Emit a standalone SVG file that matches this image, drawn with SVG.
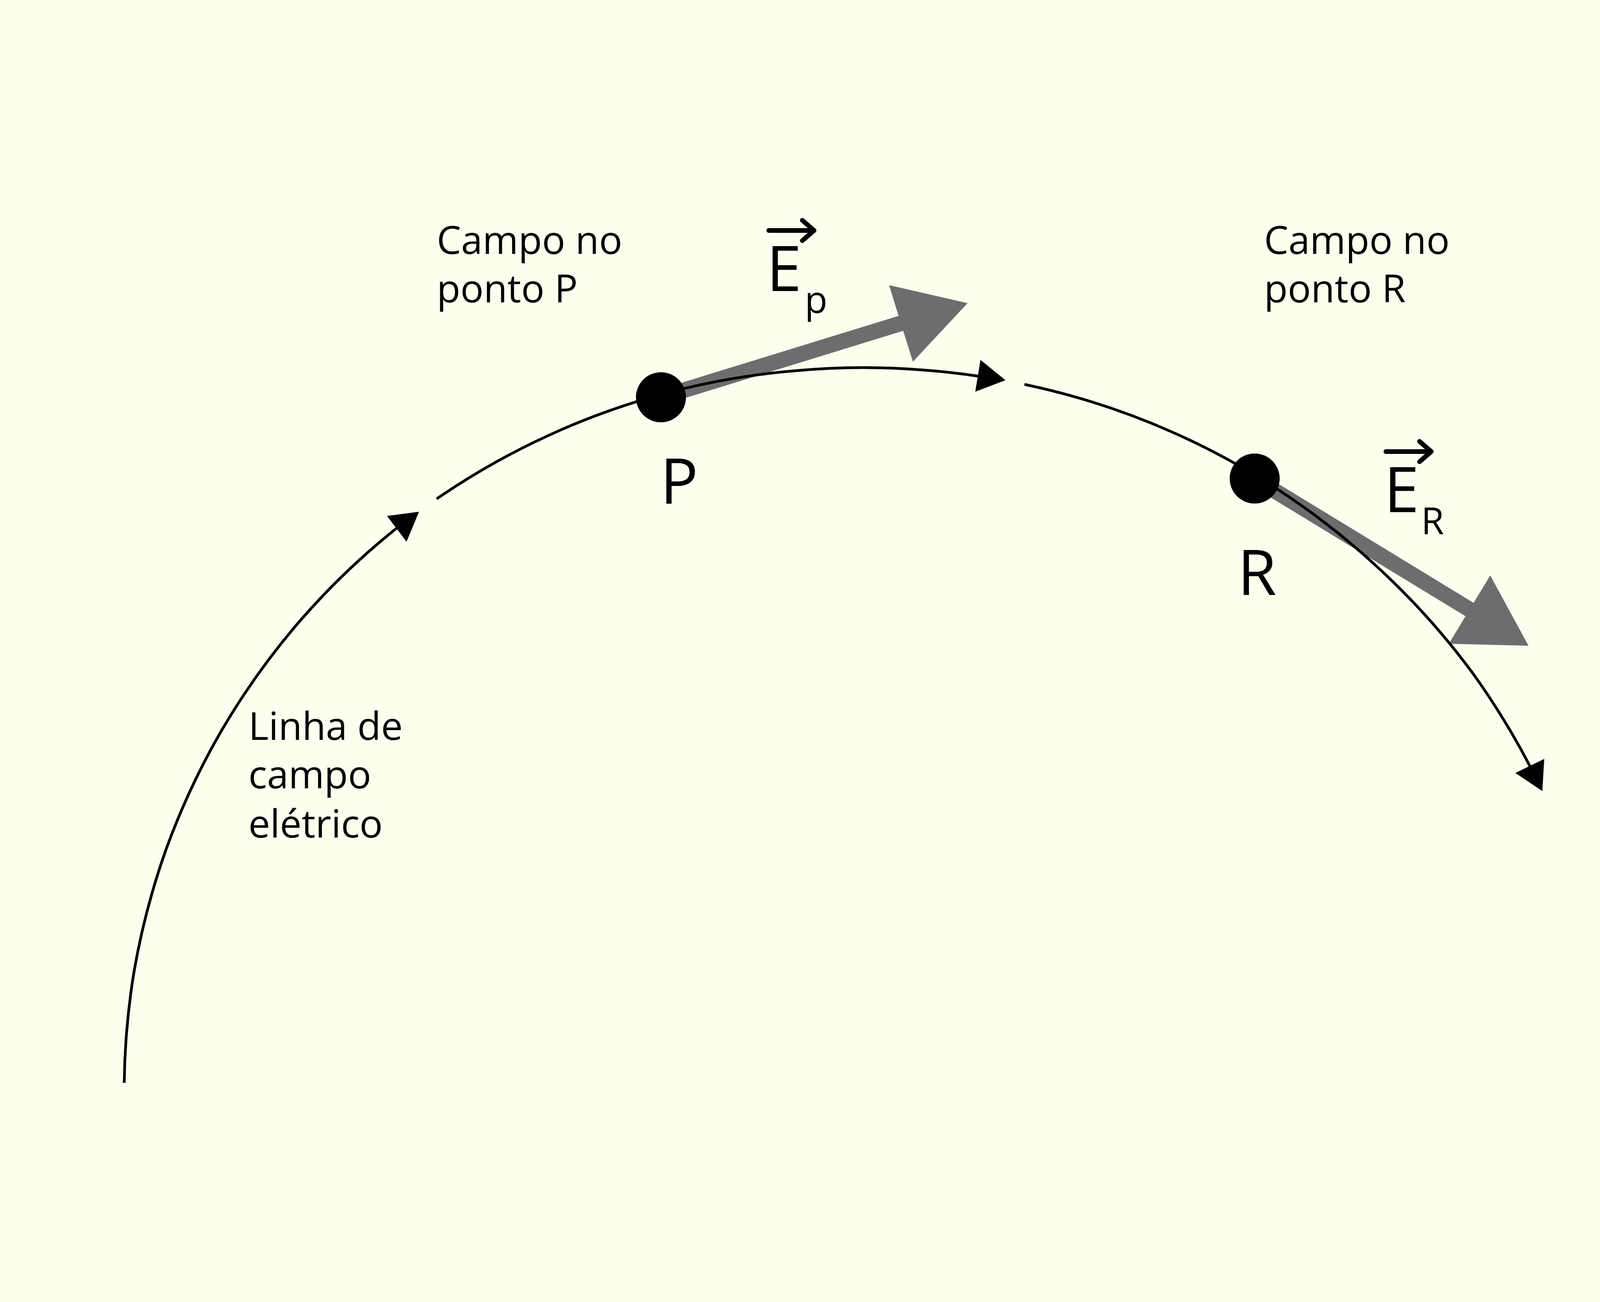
<svg xmlns="http://www.w3.org/2000/svg" width="4267" height="3333" viewBox="0 0 4267 3333">
  <style>
    .bg { fill: #fdfeee; }
    .line { fill: none; stroke: #000; stroke-width: 7; }
    .ah { fill: #000; stroke: none; }
    .shaft { fill: none; stroke: #6d6d70; stroke-width: 40; }
    .head { fill: #6d6d70; stroke: none; }
    .dot { fill: #000; }
    .lbl { font-family: "Open Sans", "Noto Sans", "DejaVu Sans", sans-serif; fill: #000; }
    .small { font-size: 99px; }
    .big { font-size: 162px; }
    .sub { font-size: 95px; }
    .vec { fill: none; stroke: #000; stroke-width: 12; stroke-linecap: round; stroke-linejoin: round; }
  </style>
  <rect class="bg" x="0" y="0" width="4267" height="3333"/>

  <g id="field-vectors">
    <g id="vector-EP">
      <line class="shaft" x1="1692" y1="1017" x2="2312" y2="826"/>
      <polygon class="head" points="2276,730 2477,776 2337,926"/>
    </g>
    <g id="vector-ER">
      <line class="shaft" x1="3212" y1="1225" x2="3768" y2="1564"/>
      <polygon class="head" points="3815,1473 3913,1653 3709,1648"/>
    </g>
  </g>

  <g id="connectors">
    <path class="line" d="M318,2772 A1890,1890 0 0 1 342.6,2490.5 A1890,1890 0 0 1 425.9,2172.3 A1890,1890 0 0 1 564.9,1874 A1890,1890 0 0 1 754.5,1605 A1890,1890 0 0 1 1018,1350"/>
    <polygon class="ah" points="990.7,1320.7 1072.7,1310 1040.7,1386.7"/>
    <path class="line" d="M1117.9,1277 A1890,1890 0 0 1 1405.5,1114.1 A1890,1890 0 0 1 1713.9,1004 A1890,1890 0 0 1 2036.5,949.1 A1890,1890 0 0 1 2363.7,947.2 A1890,1890 0 0 1 2505,963"/>
    <polygon class="ah" points="2510,921.3 2574,973.3 2496.7,1002.7"/>
    <path class="line" d="M2622.7,984 A1900,1900 0 0 1 2998.7,1105.1 A1900,1900 0 0 1 3288.1,1264.1 A1900,1900 0 0 1 3547,1471 A1900,1900 0 0 1 3767.9,1720.2 A1900,1900 0 0 1 3917,1962"/>
    <polygon class="ah" points="3953.3,1942.7 3948.3,2025 3879.3,1978.7"/>
  </g>

  <g id="point-P">
    <circle class="dot" cx="1692" cy="1017" r="64"/>
    <text class="lbl big" x="1690" y="1289">P</text>
  </g>

  <g id="point-R">
    <circle class="dot" cx="3212" cy="1225" r="64"/>
    <text class="lbl big" x="3168" y="1523">R</text>
  </g>

  <g id="label-EP">
    <path class="vec" d="M1968,590 H2084 M2054,564 L2084,590 L2054,616"/>
    <text class="lbl big" x="1962" y="745">E</text>
    <text class="lbl sub" x="2060" y="801">p</text>
  </g>

  <g id="label-ER">
    <path class="vec" d="M3548,1156 H3664 M3634,1130 L3664,1156 L3634,1182"/>
    <text class="lbl big" x="3543" y="1311">E</text>
    <text class="lbl sub" x="3638" y="1367">R</text>
  </g>

  <g id="note-P">
    <text class="lbl small" x="1118" y="650">Campo no</text>
    <text class="lbl small" x="1118" y="774">ponto P</text>
  </g>

  <g id="note-R">
    <text class="lbl small" x="3236" y="650">Campo no</text>
    <text class="lbl small" x="3236" y="774">ponto R</text>
  </g>

  <g id="note-line">
    <text class="lbl small" x="636" y="1894">Linha de</text>
    <text class="lbl small" x="636" y="2018">campo</text>
    <text class="lbl small" x="636" y="2144">elétrico</text>
  </g>
</svg>
